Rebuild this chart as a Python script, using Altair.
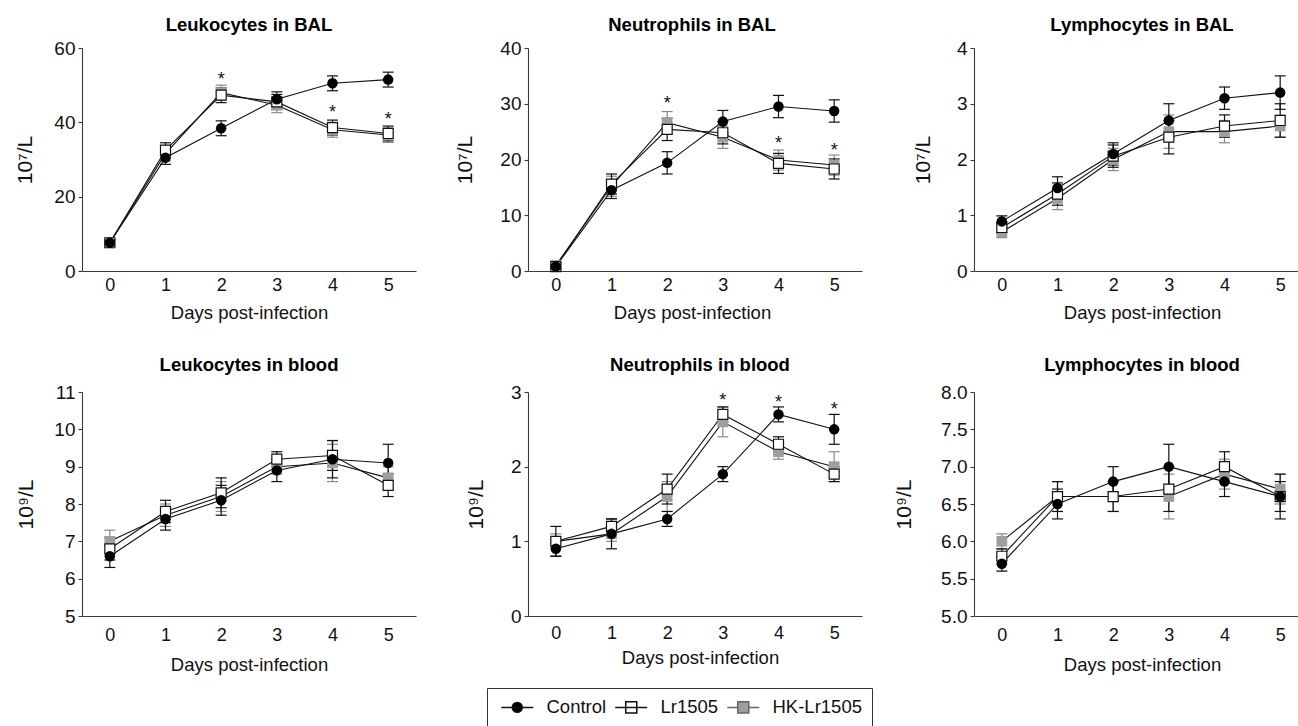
import altair as alt
import pandas as pd

# ---------------- data ----------------
days = [0, 1, 2, 3, 4, 5]
series_names = ["Control", "Lr1505", "HK-Lr1505"]

# Leukocytes in BAL (10^7/L)
leuk_bal_control = [7.6, 30.5, 38.4, 46.2, 50.5, 51.5]
leuk_bal_control_err = [0.8, 1.8, 2.0, 2.0, 2.0, 2.0]
leuk_bal_lr = [7.6, 32.5, 47.3, 45.5, 38.6, 37.0]
leuk_bal_lr_err = [0.8, 2.0, 2.0, 2.0, 2.0, 2.0]
leuk_bal_hk = [7.6, 31.6, 48.0, 44.6, 38.0, 36.6]
leuk_bal_hk_err = [0.8, 2.0, 2.0, 2.0, 2.0, 2.0]
leuk_bal_star_days = [2, 4, 5]
leuk_bal_star_y = [52.7, 43.8, 42.0]

# Neutrophils in BAL (10^7/L)
neut_bal_control = [0.8, 14.5, 19.4, 26.8, 29.5, 28.7]
neut_bal_control_err = [0.4, 1.5, 2.0, 2.0, 2.0, 2.0]
neut_bal_lr = [0.8, 15.6, 25.4, 24.8, 19.3, 18.3]
neut_bal_lr_err = [0.5, 1.8, 2.0, 2.0, 1.8, 1.8]
neut_bal_hk = [1.0, 15.2, 26.6, 24.0, 19.9, 19.0]
neut_bal_hk_err = [0.5, 1.8, 2.0, 2.0, 1.8, 1.8]
neut_bal_star_days = [2, 4, 5]
neut_bal_star_y = [30.9, 23.6, 22.5]

# Lymphocytes in BAL (10^7/L)
lymph_bal_control = [0.89, 1.49, 2.10, 2.70, 3.10, 3.20]
lymph_bal_control_err = [0.1, 0.2, 0.2, 0.3, 0.2, 0.3]
lymph_bal_lr = [0.78, 1.38, 2.06, 2.40, 2.60, 2.70]
lymph_bal_lr_err = [0.1, 0.2, 0.2, 0.3, 0.2, 0.3]
lymph_bal_hk = [0.70, 1.30, 2.00, 2.50, 2.50, 2.60]
lymph_bal_hk_err = [0.1, 0.2, 0.2, 0.3, 0.2, 0.2]

# Leukocytes in blood (10^9/L)
leuk_blood_control = [6.6, 7.6, 8.1, 8.9, 9.2, 9.1]
leuk_blood_control_err = [0.3, 0.3, 0.4, 0.3, 0.5, 0.5]
leuk_blood_lr = [6.8, 7.8, 8.3, 9.2, 9.3, 8.5]
leuk_blood_lr_err = [0.3, 0.3, 0.4, 0.2, 0.4, 0.3]
leuk_blood_hk = [7.0, 7.7, 8.2, 9.0, 9.1, 8.7]
leuk_blood_hk_err = [0.3, 0.3, 0.4, 0.2, 0.5, 0.3]

# Neutrophils in blood (10^9/L)
neut_blood_control = [0.9, 1.1, 1.3, 1.9, 2.7, 2.5]
neut_blood_control_err = [0.1, 0.2, 0.1, 0.1, 0.1, 0.2]
neut_blood_lr = [1.0, 1.2, 1.7, 2.7, 2.3, 1.9]
neut_blood_lr_err = [0.2, 0.1, 0.2, 0.1, 0.1, 0.1]
neut_blood_hk = [1.0, 1.1, 1.6, 2.6, 2.2, 2.0]
neut_blood_hk_err = [0.1, 0.1, 0.2, 0.2, 0.1, 0.2]
neut_blood_star_days = [3, 4, 5]
neut_blood_star_y = [2.95, 2.92, 2.83]

# Lymphocytes in blood (10^9/L)
lymph_blood_control = [5.7, 6.5, 6.8, 7.0, 6.8, 6.6]
lymph_blood_control_err = [0.1, 0.2, 0.2, 0.3, 0.2, 0.3]
lymph_blood_lr = [5.8, 6.6, 6.6, 6.7, 7.0, 6.6]
lymph_blood_lr_err = [0.1, 0.2, 0.2, 0.3, 0.2, 0.2]
lymph_blood_hk = [6.0, 6.6, 6.6, 6.6, 6.9, 6.7]
lymph_blood_hk_err = [0.1, 0.2, 0.2, 0.3, 0.2, 0.2]

# ---------------- styling ----------------
FONT = "Liberation Sans"
INK = "#111111"
AXIS = "#3a3a3a"
HK_GRAY = "#9e9e9e"
HK_BAR = "#8a8a8a"

legend_paths = [
    "M-2,0H2M0.62,0A0.62,0.62,0,1,1,-0.62,0A0.62,0.62,0,1,1,0.62,0Z",
    "M-2,0H2M-0.69,-0.69H0.69V0.69H-0.69Z",
    "M-2,0H-0.69M0.69,0H2M-0.69,-0.69H0.69V0.69H-0.69Z",
]


def long_df(vals, errs):
    rows = []
    for s, v_list, e_list in zip(series_names, vals, errs):
        for d, v, e in zip(days, v_list, e_list):
            rows.append({"day": d, "series": s, "value": v, "lo": v - e, "hi": v + e})
    return pd.DataFrame(rows)


def make_panel(title, ytitle, vals, errs, ydomain, yticks, yfmt, height,
               xmax, width, title_dx, title_offset, yt_x, lab_pad, xt_y,
               star_days=None, star_y=None, with_legend=False):
    df = long_df(vals, errs)
    xs = alt.Scale(domain=[-0.5, xmax], nice=False, zero=False)
    ys = alt.Scale(domain=ydomain, nice=False, zero=False)
    x_axis = alt.Axis(values=days, title="Days post-infection", ticks=False, tickSize=0,
                      labelPadding=lab_pad, labelBaseline="alphabetic", labelAngle=0,
                      titleBaseline="alphabetic", titleY=xt_y, titleX=width / 2 + title_dx,
                      grid=False, labelFontSize=18, titleFontSize=18.5)
    y_axis = alt.Axis(values=yticks, format=yfmt, title=ytitle, titleAngle=270,
                      titleBaseline="middle", titleAlign="center", titleX=yt_x,
                      titleY=height / 2, minExtent=82, maxExtent=82, grid=False,
                      tickSize=4, labelPadding=3, labelFontSize=19, titleFontSize=21)
    X = alt.X("day:Q", scale=xs, axis=x_axis)

    def Yf(field):
        return alt.Y(field + ":Q", scale=ys, axis=y_axis)

    base = alt.Chart(df)
    layers = []
    bar_colors = {"Control": INK, "Lr1505": INK, "HK-Lr1505": HK_BAR}
    for s in ["HK-Lr1505", "Lr1505", "Control"]:
        sub = base.transform_filter(alt.datum.series == s)
        layers.append(sub.mark_rule(color=bar_colors[s], strokeWidth=1.2).encode(
            x=X, y=Yf("lo"), y2="hi:Q"))
        layers.append(sub.mark_tick(orient="horizontal", size=11, thickness=1.2,
                                    color=bar_colors[s], opacity=1).encode(x=X, y=Yf("lo")))
        layers.append(sub.mark_tick(orient="horizontal", size=11, thickness=1.2,
                                    color=bar_colors[s], opacity=1).encode(x=X, y=Yf("hi")))
    for s in ["HK-Lr1505", "Lr1505", "Control"]:
        sub = base.transform_filter(alt.datum.series == s)
        layers.append(sub.mark_line(color=INK, strokeWidth=1.1).encode(x=X, y=Yf("value")))
    layers.append(base.transform_filter(alt.datum.series == "HK-Lr1505").mark_square(
        size=115, color=HK_GRAY, opacity=1).encode(x=X, y=Yf("value")))
    layers.append(base.transform_filter(alt.datum.series == "Lr1505").mark_square(
        size=100, fill="white", stroke=INK, strokeWidth=1.2, opacity=1).encode(x=X, y=Yf("value")))
    layers.append(base.transform_filter(alt.datum.series == "Control").mark_circle(
        size=110, color="#000000", opacity=1).encode(x=X, y=Yf("value")))
    if star_days:
        sdf = pd.DataFrame({"day": star_days, "value": star_y})
        layers.append(alt.Chart(sdf).mark_text(text="*", fontSize=18, font=FONT,
                                               baseline="alphabetic", dy=10, color=INK)
                      .encode(x=X, y=Yf("value")))
    if with_legend:
        leg = alt.Legend(title=None, orient="none", legendX=405, legendY=640,
                         direction="horizontal", symbolSize=256, symbolStrokeWidth=1.5,
                         symbolOpacity=1, symbolOffset=11, labelFont=FONT, labelFontSize=18.5,
                         labelColor=INK, labelOffset=20, columnPadding=4, padding=10,
                         strokeColor="#333333", fillColor="white")
        layers.append(base.mark_point(filled=True, opacity=0).encode(
            x=X, y=Yf("value"),
            shape=alt.Shape("series:N", scale=alt.Scale(domain=series_names, range=legend_paths), legend=leg),
            fill=alt.Fill("series:N", scale=alt.Scale(domain=series_names, range=["#000000", "#ffffff", HK_GRAY]), legend=leg),
            stroke=alt.Stroke("series:N", scale=alt.Scale(domain=series_names, range=[INK, INK, "#666666"]), legend=leg),
        ))
    return alt.layer(*layers).properties(
        width=width, height=height,
        title=alt.TitleParams(title, font=FONT, fontSize=18.5, fontWeight="bold", color="#000000",
                              offset=title_offset, dx=title_dx, baseline="alphabetic",
                              anchor="middle", frame="group"))


W = 334
W3 = 324
XMAX = 5.5
XMAX3 = -0.5 + 6.0 * W3 / W
T1 = -10
T2 = -6

p1 = make_panel("Leukocytes in BAL", "10⁷/L",
                [leuk_bal_control, leuk_bal_lr, leuk_bal_hk],
                [leuk_bal_control_err, leuk_bal_lr_err, leuk_bal_hk_err],
                [0, 60], [0, 20, 40, 60], "d", 223, XMAX, W, 0, T1, -57, 19, 47.5,
                leuk_bal_star_days, leuk_bal_star_y)
p2 = make_panel("Neutrophils in BAL", "10⁷/L",
                [neut_bal_control, neut_bal_lr, neut_bal_hk],
                [neut_bal_control_err, neut_bal_lr_err, neut_bal_hk_err],
                [0, 40], [0, 10, 20, 30, 40], "d", 223, XMAX, W, -3, T1, -63, 19, 47.5,
                neut_bal_star_days, neut_bal_star_y)
p3 = make_panel("Lymphocytes in BAL", "10⁷/L",
                [lymph_bal_control, lymph_bal_lr, lymph_bal_hk],
                [lymph_bal_control_err, lymph_bal_lr_err, lymph_bal_hk_err],
                [0, 4], [0, 1, 2, 3, 4], "d", 223, XMAX3, W3, 6, T1, -51, 19, 47.5)
p4 = make_panel("Leukocytes in blood", "10⁹/L",
                [leuk_blood_control, leuk_blood_lr, leuk_blood_hk],
                [leuk_blood_control_err, leuk_blood_lr_err, leuk_blood_hk_err],
                [5, 11], [5, 6, 7, 8, 9, 10, 11], "d", 224, XMAX, W, 0, T2, -56, 24, 54)
p5 = make_panel("Neutrophils in blood", "10⁹/L",
                [neut_blood_control, neut_blood_lr, neut_blood_hk],
                [neut_blood_control_err, neut_blood_lr_err, neut_blood_hk_err],
                [0, 3], [0, 1, 2, 3], "d", 224, XMAX, W, 5, T2, -52, 22, 47,
                neut_blood_star_days, neut_blood_star_y, with_legend=True)
p6 = make_panel("Lymphocytes in blood", "10⁹/L",
                [lymph_blood_control, lymph_blood_lr, lymph_blood_hk],
                [lymph_blood_control_err, lymph_blood_lr_err, lymph_blood_hk_err],
                [5, 8], [5.0, 5.5, 6.0, 6.5, 7.0, 7.5, 8.0], ".1f", 224, XMAX3, W3, 6, T2, -70, 24, 54)

row1 = alt.hconcat(p1, p2, p3, spacing=30)
row2 = alt.hconcat(p4, p5, p6, spacing=30)

chart = alt.vconcat(row1, row2, spacing=33).properties(
    padding={"left": 0, "top": 15, "right": 0, "bottom": 0},
    background="white",
).configure_view(strokeWidth=0).configure_axis(
    labelFont=FONT, titleFont=FONT,
    titleFontWeight="normal", labelColor=INK, titleColor=INK,
    domainColor=AXIS, tickColor=AXIS, domainWidth=1.1, tickWidth=1.1
)

chart.save("out.html", embed_options={"renderer": "svg", "actions": False})
